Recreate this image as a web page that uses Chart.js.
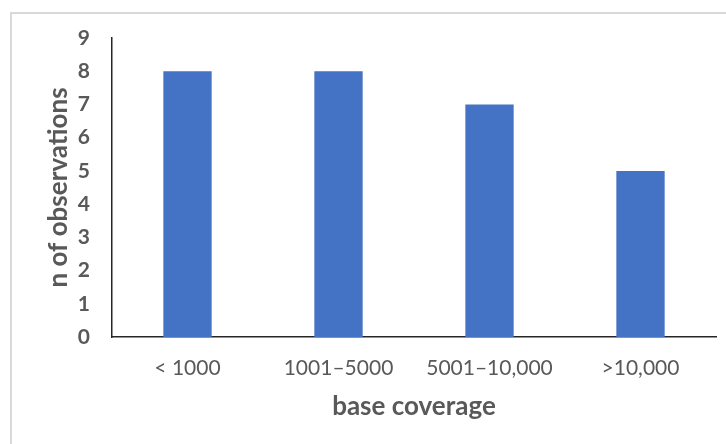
<!DOCTYPE html>
<html>
<head>
<meta charset="utf-8">
<script src="https://cdn.jsdelivr.net/npm/chart.js@4.4.1/dist/chart.umd.min.js"></script>
<style>
  html, body { margin: 0; padding: 0; background: #fff; }
  #wrap { position: relative; width: 726px; height: 444px; }
</style>
</head>
<body>
<div id="wrap"><canvas id="c" width="726" height="444"></canvas></div>
<script>
// Observations per base-coverage bin
const categories = ['< 1000', '1001\u20135000', '5001\u201310,000', '>10,000'];
const observations = [8, 8, 7, 5];
const yTicks = [0, 1, 2, 3, 4, 5, 6, 7, 8, 9];

const textColor = '#595959';
const fontFamily = 'Lato, "Noto Sans", sans-serif';

// light frame along the top and left edges
const framePlugin = {
  id: 'frame',
  beforeDraw(chart) {
    const ctx = chart.ctx;
    ctx.save();
    ctx.strokeStyle = '#d9d9d9';
    ctx.lineWidth = 2;
    ctx.beginPath();
    ctx.moveTo(11, 444);
    ctx.lineTo(11, 13);
    ctx.lineTo(726, 13);
    ctx.stroke();
    ctx.restore();
  }
};

new Chart(document.getElementById('c'), {
  type: 'bar',
  data: {
    labels: categories,
    datasets: [{
      data: observations,
      backgroundColor: '#4472C4',
      barPercentage: 0.32,
      categoryPercentage: 1.0
    }]
  },
  options: {
    responsive: false,
    animation: false,
    layout: { padding: { left: 0, right: 10, top: 38, bottom: 0 } },
    plugins: { legend: { display: false }, tooltip: { enabled: false } },
    scales: {
      x: {
        grid: { display: false, drawTicks: false },
        border: { display: true, color: '#262626', width: 1.5 },
        ticks: { color: textColor, font: { family: fontFamily, size: 21 }, padding: 19, maxRotation: 0 },
        title: { display: true, text: 'base coverage', color: textColor,
                 font: { family: fontFamily, size: 26, weight: 'bold' }, padding: { top: 0, bottom: 22 } },
        afterFit(s) { s.height = 107; }
      },
      y: {
        min: 0, max: 9,
        afterBuildTicks(s) { s.ticks = yTicks.map(v => ({ value: v })); },
        grid: { display: false, drawTicks: false },
        border: { display: true, color: '#262626', width: 1.5 },
        ticks: { color: textColor, font: { family: fontFamily, size: 21, weight: 'bold' }, padding: 22 },
        title: { display: true, text: 'n of observations', color: textColor,
                 font: { family: fontFamily, size: 26, weight: 'bold' }, padding: { top: 43, bottom: 0 } },
        afterFit(s) { s.width = 112; }
      }
    }
  },
  plugins: [framePlugin]
});
</script>
</body>
</html>
